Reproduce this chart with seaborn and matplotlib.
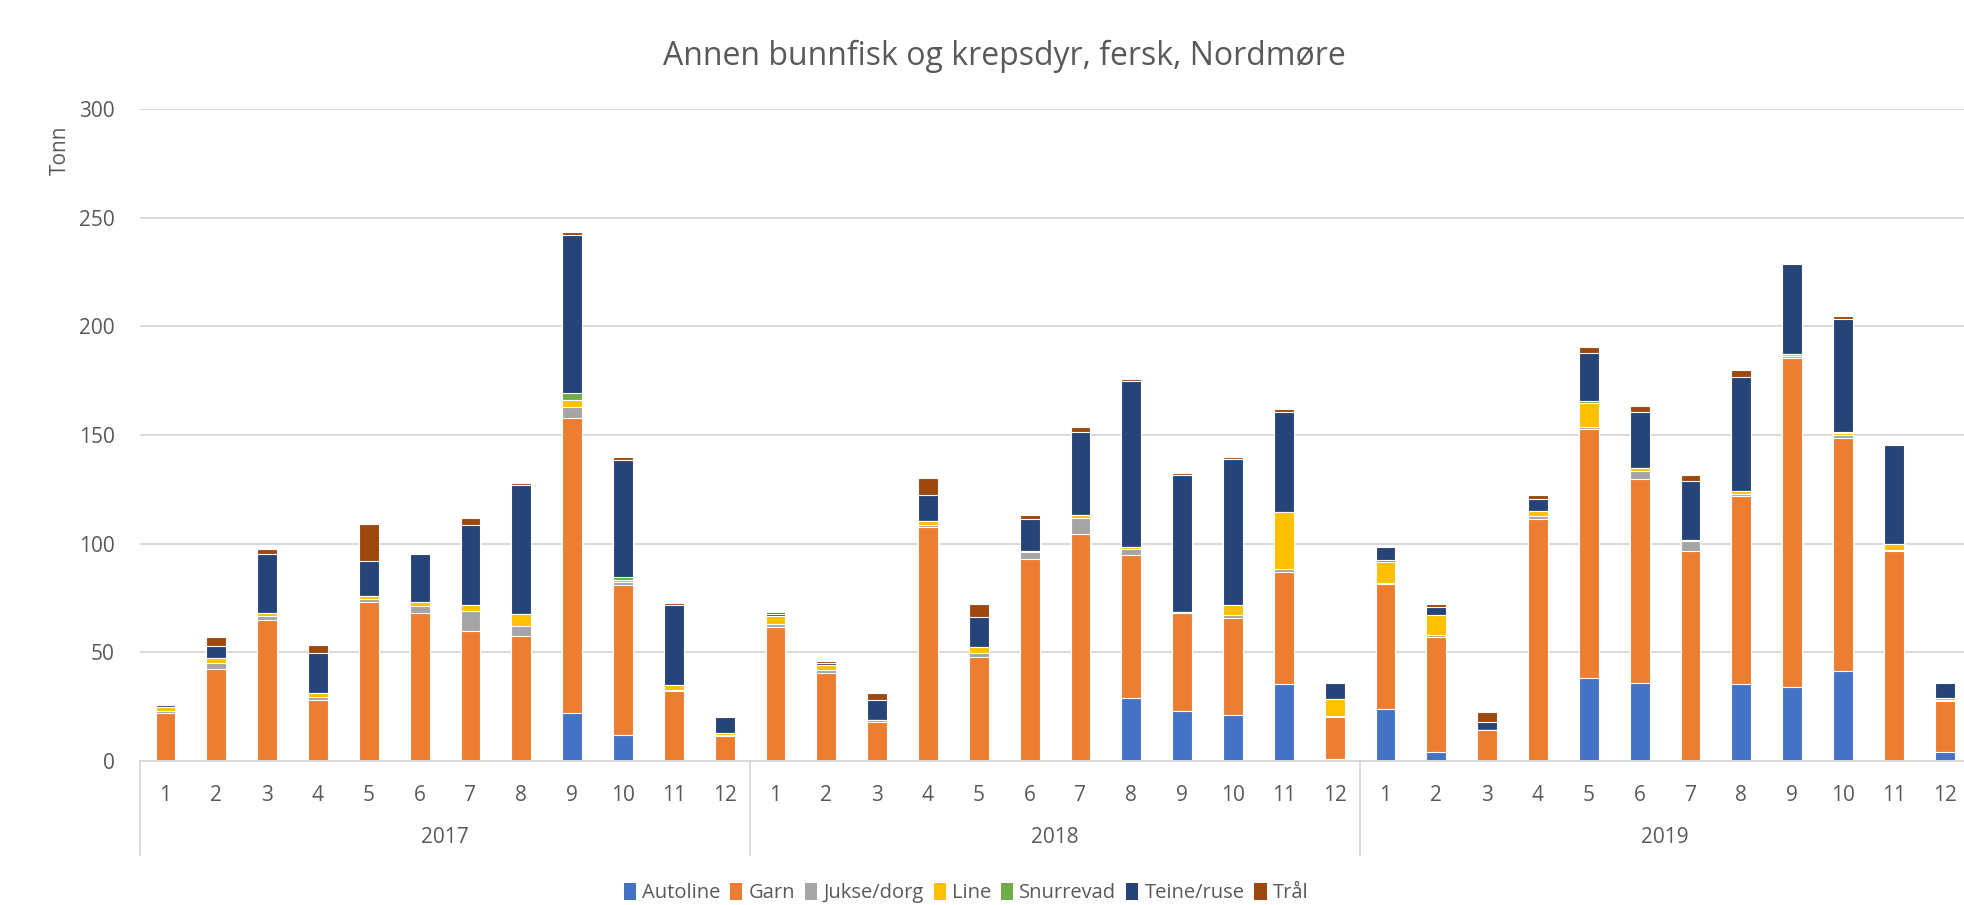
import pandas as pd
import seaborn as sns
import matplotlib.pyplot as plt
from matplotlib.patches import Patch

# Annen bunnfisk og krepsdyr, fersk, Nordmøre - tonn per måned og redskap

years = ["2017", "2018", "2019"]
months = [str(m) for m in range(1, 13)]
series = ["Autoline", "Garn", "Jukse/dorg", "Line", "Snurrevad", "Teine/ruse", "Trål"]
colors = ["#4472C4", "#ED7D31", "#A5A5A5", "#FFC000", "#70AD47", "#264478", "#9E480E"]

autoline = [0, 0, 0, 0, 0, 0, 0, 0, 21.9, 11.9, 0, 0,
            0, 0, 0, 0, 0, 0, 0, 29.0, 23.2, 21.0, 35.3, 0.8,
            23.8, 4.3, 0, 0, 38.1, 36.1, 0, 35.2, 34.2, 41.6, 0, 4.2]
garn = [22.1, 42.2, 64.7, 28.2, 73.0, 67.9, 59.6, 57.7, 135.7, 69.1, 32.2, 11.7,
        61.5, 40.6, 18.1, 107.6, 48.0, 92.9, 104.6, 65.8, 44.7, 44.6, 51.5, 19.3,
        57.5, 52.6, 14.1, 111.5, 114.8, 93.8, 96.8, 86.9, 151.3, 106.8, 96.5, 23.2]
jukse = [1.0, 2.7, 1.8, 1.4, 1.4, 3.6, 9.3, 4.6, 5.4, 1.4, 0.6, 0.4,
         1.4, 1.2, 0.6, 0.9, 1.8, 3.1, 7.3, 2.9, 0.5, 1.7, 1.4, 0.8,
         0.7, 0.9, 0.3, 1.3, 0.9, 3.7, 4.4, 0.8, 1.0, 1.7, 0.8, 0.7]
line = [1.7, 2.7, 1.7, 1.5, 1.7, 1.7, 3.1, 5.3, 3.1, 1.1, 2.3, 1.0,
        3.6, 2.3, 0.2, 2.1, 2.8, 0.6, 1.3, 0.6, 0, 4.3, 26.3, 7.6,
        9.7, 9.2, 0, 2.1, 10.9, 1.0, 0.5, 1.2, 0.8, 0.6, 2.6, 1.1]
snurrevad = [0, 0, 0, 0, 0, 0, 0, 0, 3.0, 1.2, 0, 0,
             0, 0, 0, 0, 0, 0, 0, 0, 0.3, 0, 0, 0,
             0.8, 0, 0, 0, 0.8, 0, 0, 0, 0, 0.5, 0, 0]
teine = [0.9, 5.1, 26.9, 18.6, 15.8, 21.9, 36.4, 59.2, 72.7, 54.0, 36.9, 7.0,
         1.2, 0.8, 9.3, 11.8, 13.8, 14.6, 38.1, 76.5, 62.8, 67.5, 46.3, 7.5,
         5.8, 3.7, 3.4, 5.5, 22.0, 26.1, 27.3, 52.7, 41.5, 52.4, 45.3, 6.6]
traal = [0.5, 4.5, 2.4, 3.6, 17.0, 0.5, 3.4, 1.2, 1.4, 1.2, 0.8, 0,
         0.7, 1.1, 2.9, 7.7, 5.8, 1.8, 2.3, 1.1, 1.1, 0.7, 1.0, 0.3,
         0, 1.4, 4.6, 2.2, 2.9, 2.6, 2.4, 3.3, 0.3, 1.3, 0.5, 0]

periods = [f"{y}-{m}" for y in years for m in months]
df = pd.DataFrame({"periode": periods, "Autoline": autoline, "Garn": garn,
                   "Jukse/dorg": jukse, "Line": line, "Snurrevad": snurrevad,
                   "Teine/ruse": teine, "Trål": traal})
cum = df[series].cumsum(axis=1)
cum["periode"] = df["periode"]

sns.set_theme(style="white")
plt.rcParams["font.family"] = ["Open Sans", "DejaVu Sans"]
txt = "#595959"

fig = plt.figure(figsize=(19.64, 9.05), dpi=100)
ax = fig.add_axes([140 / 1964, 1 - 761 / 905, 1 - 140 / 1964, (761 - 109) / 905])

# stacked look: draw cumulative totals from the top series downwards
for name, color in reversed(list(zip(series, colors))):
    sns.barplot(data=cum, x="periode", y=name, order=periods, color=color,
                saturation=1, width=0.39, edgecolor="white", linewidth=0.8,
                errorbar=None, ax=ax)

ax.set_xlabel("")
ax.set_ylabel("")
ax.set_ylim(0, 300)
ax.set_yticks(range(0, 301, 50))
ax.set_xlim(-0.5, 35.38)
ax.set_xticks(range(len(periods)))
ax.set_xticklabels(months * 3)
ax.tick_params(axis="x", length=0, pad=17, labelsize=15, colors=txt)
ax.tick_params(axis="y", length=0, pad=18, labelsize=15, colors=txt)
ax.yaxis.grid(True, color="#D9D9D9", linewidth=1.4)
ax.set_axisbelow(True)
for s in ["top", "right", "left"]:
    ax.spines[s].set_visible(False)
ax.spines["bottom"].set_color("#D9D9D9")
ax.spines["bottom"].set_linewidth(1.4)

# year group labels and separators
trans = ax.get_xaxis_transform()
for i, y in enumerate(years):
    ax.text(i * 12 + 5.5, -0.118, y, transform=trans, ha="center", va="center",
            fontsize=15, color=txt)
for xb in [-0.5, 11.5, 23.5]:
    ax.plot([xb, xb], [0, -0.144], transform=trans, color="#D9D9D9",
            linewidth=1.4, clip_on=False)

fig.text(1004 / 1964, 1 - 56 / 905, "Annen bunnfisk og krepsdyr, fersk, Nordmøre",
         ha="center", va="center", fontsize=23, color=txt)
fig.text(60 / 1964, 1 - 150 / 905, "Tonn", rotation=90, ha="center", va="center",
         fontsize=15, color=txt)

handles = [Patch(facecolor=c, edgecolor="none") for c in colors]
fig.legend(handles, series, loc="center", bbox_to_anchor=(966 / 1964, 1 - 893 / 905),
           ncol=7, frameon=False, fontsize=14.5, handlelength=0.6, handleheight=0.9,
           handletextpad=0.3, columnspacing=0.5, labelcolor=txt)

fig.savefig("out.png", dpi=100)
